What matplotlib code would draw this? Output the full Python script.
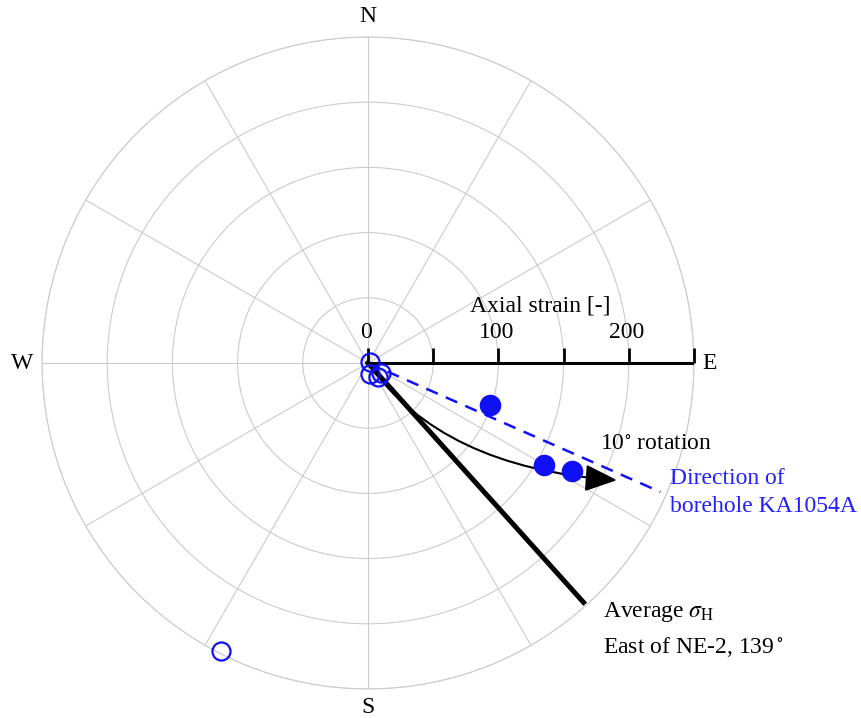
import numpy as np
import matplotlib
matplotlib.use("Agg")
import matplotlib.pyplot as plt
from matplotlib.markers import TICKUP

plt.rcParams['font.family'] = ['Liberation Serif', 'DejaVu Serif']
plt.rcParams['mathtext.fontset'] = 'stix'

# measured strain points, compass bearing [deg] and axial strain [-]
filled_bearing = [109, 120, 118]
filled_strain = [99, 156, 177]
open_bearing = [60, 170, 145, 128, 207]
open_strain = [2, 8.5, 13, 12.5, 248]

# reference directions
borehole_bearing = 113.8
borehole_strain = 245
sigma_bearing = 138
sigma_strain = 247

# hand drawn "10 deg rotation" arrow: from the origin to its tip
rot_start = (139, 0)
rot_tip = (115.2, 211)

# strain axis along east
axis_ticks = [0, 50, 100, 150, 200, 250]
axis_labels = {0: "0", 100: "100", 200: "200"}
rmax = 250

compass = ["N", "E", "S", "W"]
compass_deg = [0, 90, 180, 270]

W, H = 862, 718
fig = plt.figure(figsize=(W / 100, H / 100), dpi=100)
cx, cy, rad_px = 368, 363, 326
ax = fig.add_axes([(cx - rad_px) / W, (H - cy - rad_px) / H, 2 * rad_px / W, 2 * rad_px / H],
                  projection='polar')
ax.set_theta_zero_location('N')
ax.set_theta_direction(-1)
ax.set_rlim(0, rmax)

grid_col = '#cbcbcb'
ax.set_rticks([50, 100, 150, 200, 250])
ax.set_yticklabels([])
ax.set_thetagrids(range(0, 360, 30), labels=[''] * 12)
ax.grid(True, color=grid_col, lw=0.8)
ax.spines['polar'].set_color(grid_col)
ax.spines['polar'].set_linewidth(0.8)

r = np.deg2rad

# compass letters
for lab, deg, rr in zip(compass, compass_deg, [266, 262, 264, 265]):
    ax.text(r(deg), rr, lab, ha='center', va='center', fontsize=17, clip_on=False)

# strain axis
ax.plot([r(90), r(90)], [0, rmax], color='black', lw=2.2, zorder=4, solid_capstyle='butt')
ax.plot([r(90)] * len(axis_ticks), axis_ticks, ls='none', marker=TICKUP, ms=11,
        mew=2.0, color='black', zorder=4, clip_on=False)
for t, lab in axis_labels.items():
    ax.annotate(lab, xy=(r(90), t), xytext=(-2, 31), textcoords='offset pixels',
                ha='center', va='center', fontsize=17)
ax.annotate("Axial strain [-]", xy=(r(90), 132), xytext=(0, 57), textcoords='offset pixels',
            ha='center', va='center', fontsize=17)

# borehole direction and sigma_H direction
ax.plot([r(borehole_bearing)] * 2, [0, borehole_strain], color='#1010ff', lw=1.8,
        ls=(0, (5, 3.5)), zorder=3)
ax.plot([r(sigma_bearing)] * 2, [0, sigma_strain], color='black', lw=3.6, zorder=3)

# rotation arrow (smooth curve bending from sigma_H towards the borehole)
ax.annotate('', xy=(r(rot_tip[0]), rot_tip[1]), xytext=(r(rot_start[0]), rot_start[1]),
            arrowprops=dict(arrowstyle='-|>,head_length=0.9,head_width=0.38', color='black',
                            lw=1.5, shrinkA=0, shrinkB=0, mutation_scale=22,
                            connectionstyle='angle3,angleA=-55,angleB=-4'),
            zorder=3)

# data points
ax.plot(r(np.array(filled_bearing)), filled_strain, ls='none', marker='o', ms=14.5,
        color='#1010f5', zorder=5)
ax.plot(r(np.array(open_bearing)), open_strain, ls='none', marker='o', ms=13,
        mfc='none', mec='#1010f5', mew=1.6, zorder=5, clip_on=False)

# annotations
def fxy(x, y):
    return x / W, 1 - y / H

fig.text(*fxy(600, 445), r'10$^{\circ}$ rotation', fontsize=17, ha='left', va='center')
fig.text(*fxy(670, 479), 'Direction of', fontsize=17, ha='left', va='center', color='#2020ff')
fig.text(*fxy(670, 506), 'borehole KA1054A', fontsize=17, ha='left', va='center', color='#2020ff')
fig.text(*fxy(603, 612), r'Average $\sigma_{\rm H}$', fontsize=17, ha='left', va='center')
fig.text(*fxy(603, 647), r'East of NE-2, 139$\,^{\circ}$', fontsize=17, ha='left', va='center')

fig.savefig("out.png", dpi=100)
